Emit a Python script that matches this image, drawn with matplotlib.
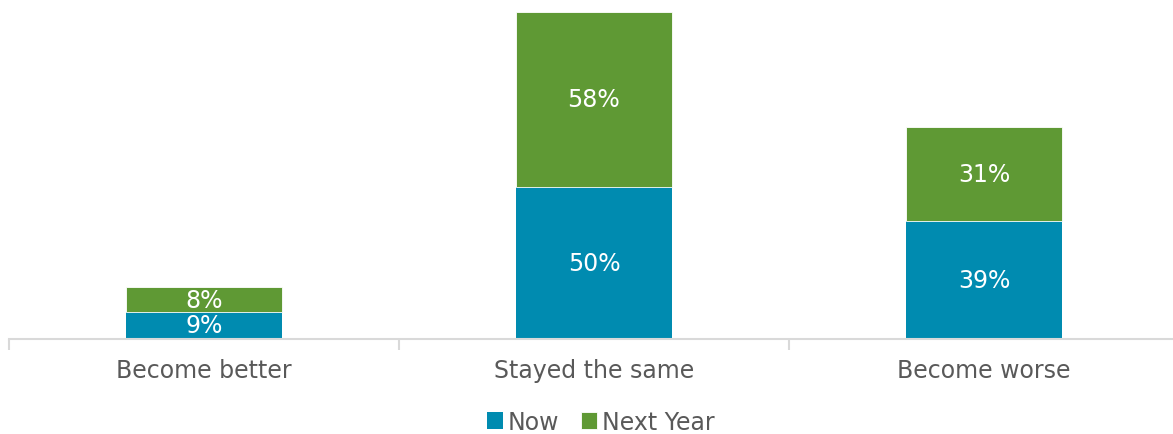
import matplotlib.pyplot as plt
import numpy as np

categories = ["Become better", "Stayed the same", "Become worse"]
now = [9, 50, 39]
next_year = [8, 58, 31]
series_names = ["Now", "Next Year"]

c_now = "#008BB0"
c_next = "#5F9934"
gray = "#595959"
fs = 17

fig = plt.figure(figsize=(11.73, 4.35), dpi=100)
ax = fig.add_axes([9/1173, 95/435, 1170/1173, 329/435])
x = np.arange(len(categories))
w = 0.4
b1 = ax.bar(x, now, width=w, color=c_now, label=series_names[0])
b2 = ax.bar(x, next_year, width=w, bottom=now, color=c_next, label=series_names[1],
            edgecolor="white", linewidth=0.6)
for xi, v in zip(x, now):
    ax.text(xi, v / 2, f"{v}%", ha="center", va="center", color="white", fontsize=fs)
for xi, v, b in zip(x, next_year, now):
    ax.text(xi, b + v / 2, f"{v}%", ha="center", va="center", color="white", fontsize=fs)

ax.set_xlim(-0.5, 2.5)
ax.set_ylim(0, 108.5)
for s in ["top", "right", "left"]:
    ax.spines[s].set_visible(False)
ax.spines["bottom"].set_color("#d9d9d9")
ax.spines["bottom"].set_linewidth(1.5)
ax.set_yticks([])
ax.set_xticks([-0.5, 0.5, 1.5, 2.5])
ax.set_xticklabels([])
ax.tick_params(axis="x", which="major", length=8, width=1.5, color="#d9d9d9")
ax.set_xticks(x, minor=True)
ax.set_xticklabels(categories, minor=True, fontsize=fs, color=gray)
ax.tick_params(axis="x", which="minor", length=0, pad=14)

fig.legend(handles=[b1, b2], labels=series_names, loc="center", bbox_to_anchor=(0.512, 12/435),
           ncol=2, frameon=False, fontsize=fs, labelcolor=gray, handlelength=0.7,
           handleheight=0.7, handletextpad=0.2, columnspacing=0.9, borderpad=0.2)
fig.savefig("out.png", dpi=100)
